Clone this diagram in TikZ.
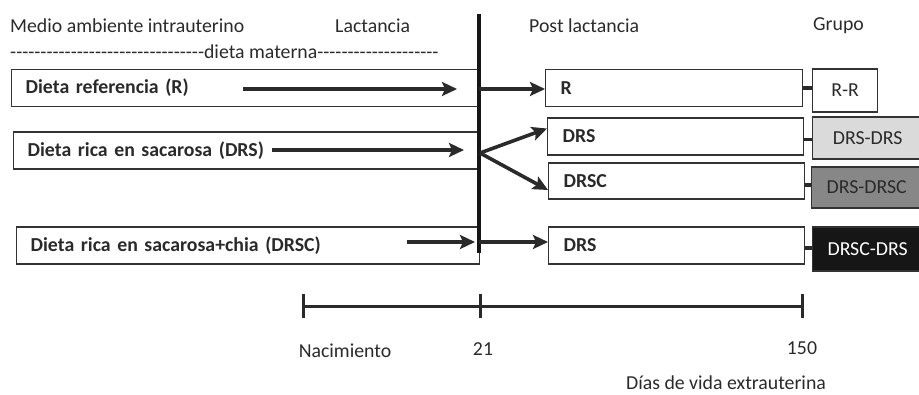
\documentclass[tikz,border=0pt]{standalone}
\usepackage{fontspec}
\setmainfont{Carlito}[Ligatures=TeXOff]
\usetikzlibrary{arrows.meta}
\definecolor{txt}{HTML}{2A2A2A}
\definecolor{bord}{HTML}{333333}
\definecolor{lgray}{HTML}{DADADA}
\definecolor{mgray}{HTML}{878787}
\definecolor{dark}{HTML}{161616}
\begin{document}
\begin{tikzpicture}[x=1pt,y=-1pt,
  fnt/.style={font=\fontsize{19.8}{22}\selectfont},
  lbl/.style={fnt, text=txt, inner sep=0pt},
  lbox/.style={draw=bord, line width=1.3pt, anchor=west, inner xsep=14pt, inner ysep=0pt,
     minimum height=37pt, fnt, font=\fontsize{19.8}{22}\selectfont\bfseries, text=txt, align=left},
  pbox/.style={draw=bord, line width=1.3pt, anchor=west, inner xsep=15pt, inner ysep=0pt,
     minimum height=37pt, font=\fontsize{19.8}{22}\selectfont\bfseries, text=txt, align=left},
  gbox/.style={draw=bord, line width=1.3pt, anchor=west, inner sep=0pt,
     font=\fontsize{19.8}{22}\selectfont, text=txt, align=center},
  arr/.style={line width=3.6pt, draw=txt, -{Stealth[length=15pt,width=14pt,inset=3pt]}},
  tick/.style={line width=3.5pt, draw=txt},
  tl/.style={line width=3pt, draw=txt}]
\useasboundingbox (0,0) rectangle (919,394);

% headers
\node[lbl, anchor=west] (hMedio) at (10,26) {Medio ambiente intrauterino};
\node[lbl, anchor=west] (hLact) at (335,26) {Lactancia};
\node[lbl, anchor=west] (hPost) at (529,26) {Post lactancia};
\node[lbl, anchor=west] (hGrupo) at (813,26) {Grupo};
\node[lbl, anchor=west] (hDieta) at (10,52) {--------------------------------dieta materna--------------------};

% left boxes
\node[lbox, text width=440pt] (lR) at (11,88) {Dieta referencia (R)};
\node[lbox, text width=438pt] (lS) at (13,150.5) {Dieta rica en sacarosa (DRS)};
\node[lbox, text width=435pt] (lC) at (16,245.5) {Dieta rica en sacarosa+chia (DRSC)};

% vertical line
\coordinate (vt) at (479,14);
\coordinate (vb) at (479,253);
\draw[line width=4pt, draw=dark] (vt) -- (vb);

% post boxes
\node[pbox, text width=227pt] (pR) at (545,88) {R};
\node[pbox, text width=226pt] (pS) at (547,136.5) {DRS};
\node[pbox, text width=226pt, minimum height=36pt] (pC) at (548,181) {DRSC};
\node[pbox, text width=226pt] (pD) at (548,245.5) {DRS};

% group boxes
\node[gbox, minimum width=65pt, minimum height=43pt] (gR) at (812,90.5) {R-R};
\node[gbox, fill=lgray, minimum width=110pt, minimum height=42pt, text width=104pt] (gS) at (812,138) {DRS-DRS};
\node[gbox, fill=mgray, minimum width=110pt, minimum height=41pt, text width=104pt] (gC) at (811,187.5) {DRS-DRSC};
\node[gbox, fill=dark, text=white, minimum width=110pt, minimum height=44pt, text width=104pt] (gD) at (812,249) {DRSC-DRS};

% ticks between post and group boxes
\draw[tick] (pR.east) -- (pR.east -| gR.west);
\draw[tick] ([yshift=-3pt]pS.east) -- ([yshift=-3pt]pS.east -| gS.west);
\draw[tick] ([yshift=-4pt]pC.east) -- ([yshift=-4pt]pC.east -| gC.west);
\draw[tick] ([yshift=-2.5pt]pD.east) -- ([yshift=-2.5pt]pD.east -| gD.west);

% arrows inside left boxes
\coordinate (aR1) at (243,89);  \coordinate (aR2) at (457,89);
\coordinate (aS1) at (272,150); \coordinate (aS2) at (464,150);
\coordinate (aC1) at (407,242); \coordinate (aC2) at (475,242);
\draw[arr] (aR1) -- (aR2);
\draw[arr] (aS1) -- (aS2);
\draw[arr] (aC1) -- (aC2);

% arrows after weaning
\coordinate (bR) at (479,89);
\coordinate (bF) at (480,153);
\coordinate (bD) at (479,242);
\draw[arr] (bR) -- (pR.west |- bR);
\draw[arr] (bF) -- ([yshift=8pt]pS.west);
\draw[arr] (bF) -- ([yshift=-9pt]pC.west);
\draw[arr] (bD) -- (pD.west |- bD);

% timeline
\coordinate (t0) at (303,306);
\coordinate (t1) at (480,306);
\coordinate (t2) at (802,306);
\draw[tl] (t0) -- (t2);
\draw[tl] ([yshift=12pt]t0) -- ([yshift=-12pt]t0);
\draw[tl] ([yshift=12pt]t1) -- ([yshift=-12pt]t1);
\draw[tl] ([yshift=12pt]t2) -- ([yshift=-12pt]t2);
\node[lbl] (nNac) at (345,351) {Nacimiento};
\node[lbl] (n21) at (483,349) {21};
\node[lbl] (n150) at (802,348) {150};
\node[lbl] (nDias) at (726,383) {Días de vida extrauterina};
\end{tikzpicture}
\end{document}
